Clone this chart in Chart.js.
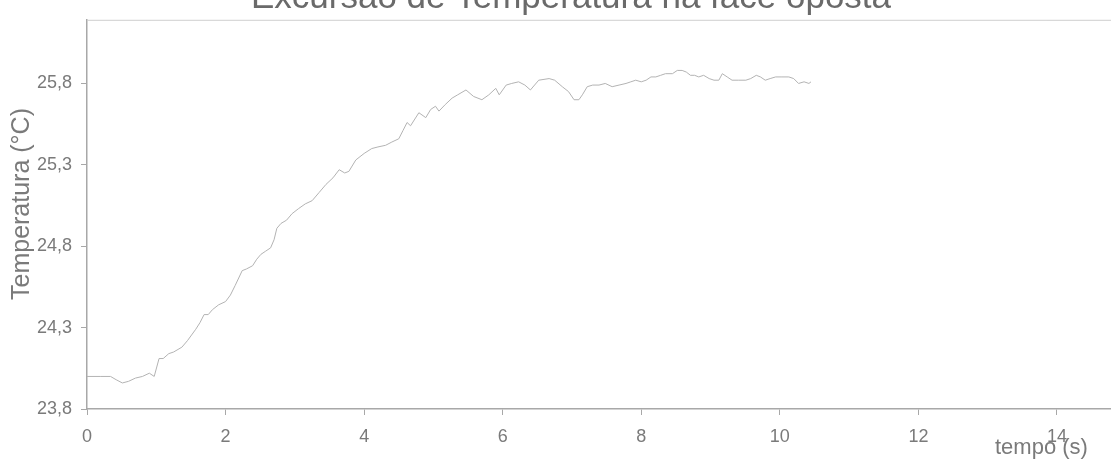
<!DOCTYPE html>
<html>
<head>
<meta charset="utf-8">
<script src="https://cdn.jsdelivr.net/npm/chart.js@4/dist/chart.umd.min.js"></script>
<style>
  html, body { margin: 0; padding: 0; background: #fff; }
  #wrap { position: relative; width: 1111px; height: 460px; }
</style>
</head>
<body>
<div id="wrap"><canvas id="chart"></canvas></div>
<script>
// chart values
const chartTitle = "Excursão de Temperatura na face oposta";
const xTitle = "tempo (s)";
const yTitle = "Temperatura (°C)";
const yTicks = [23.8, 24.3, 24.8, 25.3, 25.8];
const xTicks = [0, 2, 4, 6, 8, 10, 12, 14];

const times = [
  0, 0.2, 0.34, 0.42, 0.51, 0.6, 0.7, 0.8, 0.9, 0.97,
  1.04, 1.1, 1.18, 1.25, 1.37, 1.45, 1.57, 1.63, 1.69, 1.75,
  1.81, 1.9, 2.0, 2.07, 2.14, 2.24, 2.3, 2.39, 2.45, 2.51,
  2.58, 2.65, 2.7, 2.74, 2.8, 2.88, 2.96, 3.05, 3.15, 3.25,
  3.35, 3.45, 3.55, 3.64, 3.72, 3.78, 3.88, 4.0, 4.11, 4.2,
  4.31, 4.4, 4.5, 4.56, 4.62, 4.67, 4.79, 4.89, 4.96, 5.03,
  5.08, 5.17, 5.27, 5.35, 5.47, 5.58, 5.7, 5.8, 5.9, 5.95,
  6.05, 6.13, 6.23, 6.32, 6.4, 6.52, 6.67, 6.75, 6.86, 6.95,
  7.03, 7.1, 7.15, 7.22, 7.3, 7.39, 7.48, 7.58, 7.68, 7.78,
  7.85, 7.92, 8.0, 8.07, 8.14, 8.21, 8.28, 8.35, 8.45, 8.52,
  8.59, 8.65, 8.71, 8.77, 8.83, 8.9, 8.98, 9.05, 9.12, 9.17,
  9.24, 9.31, 9.4, 9.51, 9.58, 9.66, 9.72, 9.79, 9.86, 9.94,
  10.03, 10.13, 10.2, 10.27, 10.35, 10.42, 10.45
];
const temps = [
  24.00, 24.00, 24.00, 23.98, 23.96, 23.97, 23.99, 24.00, 24.02, 24.00,
  24.11, 24.11, 24.14, 24.15, 24.18, 24.22, 24.29, 24.33, 24.38, 24.38,
  24.41, 24.44, 24.46, 24.50, 24.56, 24.65, 24.66, 24.68, 24.72, 24.75,
  24.77, 24.79, 24.84, 24.91, 24.94, 24.96, 25.00, 25.03, 25.06, 25.08,
  25.13, 25.18, 25.22, 25.27, 25.25, 25.26, 25.33, 25.37, 25.40, 25.41,
  25.42, 25.44, 25.46, 25.51, 25.56, 25.54, 25.62, 25.59, 25.64, 25.66,
  25.63, 25.67, 25.71, 25.73, 25.76, 25.72, 25.70, 25.73, 25.77, 25.73,
  25.79, 25.80, 25.81, 25.79, 25.76, 25.82, 25.83, 25.82, 25.78, 25.75,
  25.70, 25.70, 25.73, 25.78, 25.79, 25.79, 25.80, 25.78, 25.79, 25.80,
  25.81, 25.82, 25.81, 25.82, 25.84, 25.84, 25.85, 25.86, 25.86, 25.88,
  25.88, 25.87, 25.85, 25.85, 25.84, 25.85, 25.83, 25.82, 25.82, 25.86,
  25.84, 25.82, 25.82, 25.82, 25.83, 25.85, 25.84, 25.82, 25.83, 25.84,
  25.84, 25.84, 25.83, 25.80, 25.81, 25.80, 25.81
];

const axisColor = "#a8a8a8";
const textColor = "#7a7a7a";
const fontFamily = "'Liberation Sans', Arial, sans-serif";

// titles drawn where Excel put them (title cut off at the top, x caption over the last tick)
const captions = {
  id: "captions",
  afterDraw(chart) {
    const { ctx, chartArea } = chart;
    ctx.save();
    // plot frame top edge
    ctx.strokeStyle = "#cfcfcf";
    ctx.lineWidth = 1;
    ctx.beginPath();
    ctx.moveTo(chartArea.left, chartArea.top + 0.5);
    ctx.lineTo(chartArea.right, chartArea.top + 0.5);
    ctx.stroke();

    ctx.fillStyle = "#6a6a6a";
    ctx.font = "35px " + fontFamily;
    ctx.textAlign = "center";
    ctx.textBaseline = "alphabetic";
    ctx.fillText(chartTitle, 571, 8);

    ctx.fillStyle = textColor;
    ctx.font = "22px " + fontFamily;
    ctx.textAlign = "left";
    ctx.fillText(xTitle, 995, 454);

    ctx.translate(22, 204);
    ctx.rotate(-Math.PI / 2);
    ctx.font = "25px " + fontFamily;
    ctx.textAlign = "center";
    ctx.textBaseline = "middle";
    ctx.fillText(yTitle, 0, 0);
    ctx.restore();
  }
};

new Chart(document.getElementById("chart"), {
  type: "line",
  data: {
    datasets: [{
      data: times.map((t, i) => ({ x: t, y: temps[i] })),
      borderColor: "#b3b3b3",
      borderWidth: 1,
      pointRadius: 0,
      tension: 0,
      fill: false
    }]
  },
  options: {
    responsive: true,
    maintainAspectRatio: false,
    animation: false,
    layout: { padding: { top: 12, right: 0, bottom: 0, left: 0 } },
    plugins: {
      legend: { display: false },
      tooltip: { enabled: false }
    },
    scales: {
      x: {
        type: "linear",
        min: 0,
        max: 14.78,
        afterBuildTicks: (scale) => { scale.ticks = xTicks.map((v) => ({ value: v })); },
        afterFit: (scale) => {
          scale.height = 51;
          scale.paddingLeft = 0;
          scale.paddingRight = 0;
        },
        ticks: {
          color: textColor,
          padding: 11,
          maxRotation: 0,
          font: { family: fontFamily, size: 18 }
        },
        grid: { drawOnChartArea: false, drawTicks: true, tickLength: 6, color: axisColor },
        border: { display: true, color: axisColor, width: 1.5 }
      },
      y: {
        min: 23.8,
        max: 26.191,
        afterFit: (scale) => { scale.width = 87; },
        afterBuildTicks: (scale) => { scale.ticks = yTicks.map((v) => ({ value: v })); },
        ticks: {
          color: textColor,
          padding: 9,
          font: { family: fontFamily, size: 18 },
          callback: (v) => Number(v).toFixed(1).replace(".", ",")
        },
        grid: { drawOnChartArea: false, drawTicks: true, tickLength: 6, color: axisColor },
        border: { display: true, color: axisColor, width: 1.5 }
      }
    }
  },
  plugins: [captions]
});
</script>
</body>
</html>
